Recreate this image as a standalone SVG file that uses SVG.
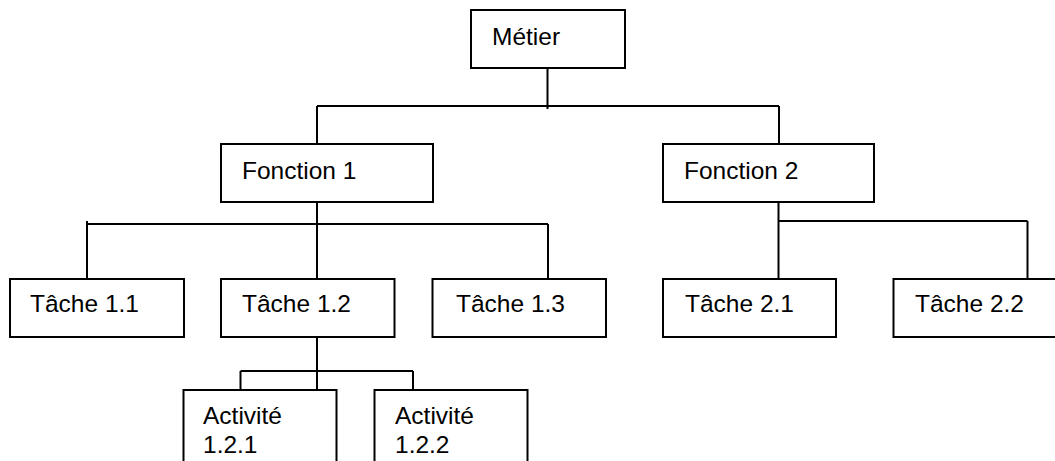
<svg xmlns="http://www.w3.org/2000/svg" width="1055" height="461" viewBox="0 0 1055 461">
<style>
.box{fill:#fff;stroke:#000;stroke-width:2}
.lbl{font-family:"Liberation Sans",Arial,sans-serif;font-size:24.5px;fill:#000}
.conn line{stroke:#000;stroke-width:2;stroke-linecap:butt}
</style>
<rect width="1055" height="461" fill="#fff"/>
<g class="conn" id="connectors">
<line x1="547.5" y1="69" x2="547.5" y2="109"/>
<line x1="317" y1="106" x2="779" y2="106"/>
<line x1="317" y1="106" x2="317" y2="144"/>
<line x1="779" y1="106" x2="779" y2="144"/>
<line x1="317" y1="202" x2="317" y2="279"/>
<line x1="87" y1="224" x2="548" y2="224"/>
<line x1="87" y1="221" x2="87" y2="279"/>
<line x1="548" y1="224" x2="548" y2="279"/>
<line x1="778.5" y1="199" x2="778.5" y2="279"/>
<line x1="778.5" y1="221" x2="1027.5" y2="221"/>
<line x1="1027.5" y1="221" x2="1027.5" y2="279"/>
<line x1="317" y1="337" x2="317" y2="390"/>
<line x1="240.5" y1="371" x2="413" y2="371"/>
<line x1="240.5" y1="371" x2="240.5" y2="390"/>
<line x1="413" y1="371" x2="413" y2="390"/>
</g>
<g id="metier"><rect class="box" x="471" y="10" width="154" height="58"/><text class="lbl" x="492" y="45">Métier</text></g>
<g id="fonction1"><rect class="box" x="221" y="144" width="212" height="58"/><text class="lbl" x="242" y="179">Fonction 1</text></g>
<g id="fonction2"><rect class="box" x="663" y="144" width="211" height="58"/><text class="lbl" x="684" y="179">Fonction 2</text></g>
<g id="tache11"><rect class="box" x="10" y="279" width="174" height="58"/><text class="lbl" x="30" y="312">Tâche 1.1</text></g>
<g id="tache12"><rect class="box" x="221" y="279" width="173.5" height="58"/><text class="lbl" x="242" y="312">Tâche 1.2</text></g>
<g id="tache13"><rect class="box" x="432.5" y="279" width="173.5" height="58"/><text class="lbl" x="456" y="312">Tâche 1.3</text></g>
<g id="tache21"><rect class="box" x="663" y="279" width="173" height="58"/><text class="lbl" x="685" y="312">Tâche 2.1</text></g>
<g id="tache22"><rect class="box" x="893.5" y="279" width="173" height="58"/><text class="lbl" x="915" y="312">Tâche 2.2</text></g>
<g id="activite121"><rect class="box" x="183.5" y="390" width="153" height="90"/><text class="lbl" x="203" y="424">Activité</text><text class="lbl" x="203" y="453">1.2.1</text></g>
<g id="activite122"><rect class="box" x="374.5" y="390" width="153" height="90"/><text class="lbl" x="395" y="424">Activité</text><text class="lbl" x="395" y="453">1.2.2</text></g>
</svg>
